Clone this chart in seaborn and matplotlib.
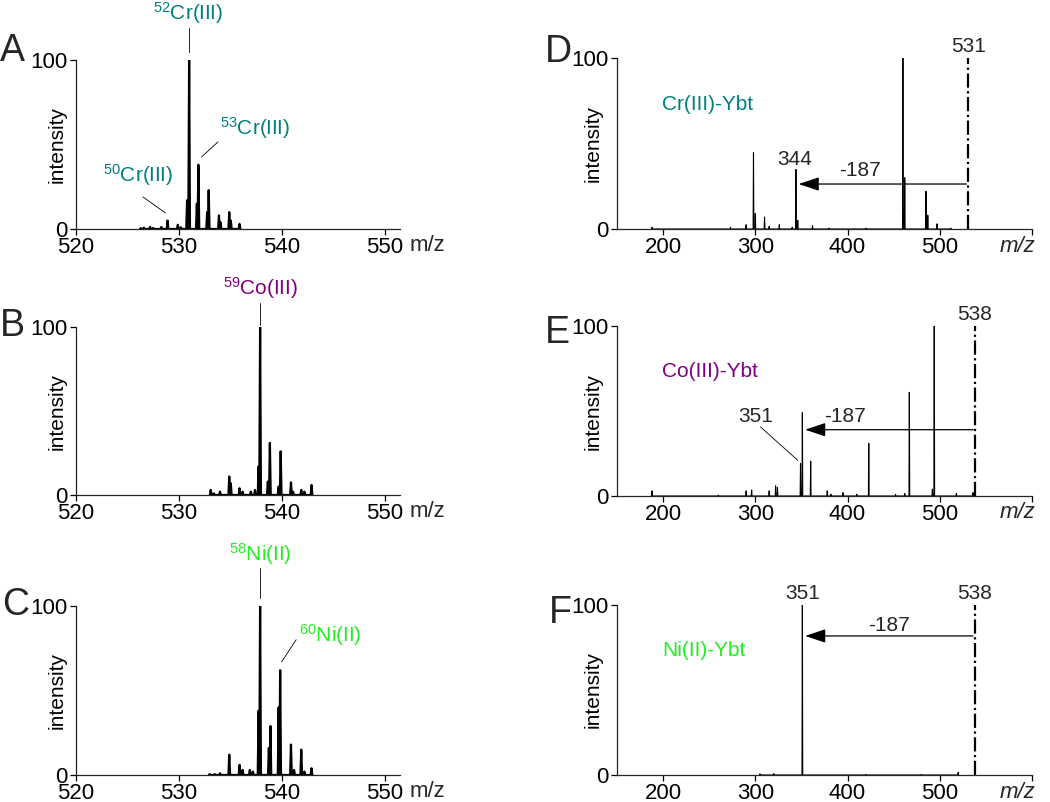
import matplotlib
matplotlib.use("Agg")
import matplotlib.pyplot as plt
import pandas as pd
import seaborn as sns

# --- data ------------------------------------------------------------------
# A-C: isotope envelopes (m/z, relative intensity)
cr_mz = [526.3, 526.6, 527.2, 527.5, 528.3, 528.9, 529.9, 530.2, 530.8, 531.0,
         531.75, 531.9, 532.75, 532.9, 533.9, 534.05, 534.9, 535.05, 535.9]
cr_int = [0.5, 0.8, 1.2, 0.6, 1.2, 5, 2.5, 1, 17, 100,
          15, 38, 10, 23, 8, 4, 10, 5, 3]

co_mz = [533.1, 533.4, 534.0, 534.9, 535.05, 535.9, 536.2, 537.0, 537.4, 537.75,
         537.9, 538.65, 538.85, 539.7, 539.9, 540.9, 541.1, 541.9, 542.2, 542.9]
co_int = [3, 1, 2, 11, 7, 4, 2, 2, 3, 17,
          100, 8, 31, 5, 26, 7.5, 2, 3, 2, 6]

ni_mz = [533.0, 533.5, 534.0, 534.9, 535.9, 536.2, 536.9, 537.2, 537.75, 537.9,
         538.75, 538.9, 539.7, 539.85, 540.9, 541.2, 541.9, 542.2, 542.9]
ni_int = [0.5, 0.5, 1, 12, 6, 3, 3, 2, 38, 100,
          16, 29, 40, 62, 18, 3, 15, 2, 4]

# D-F: MS/MS fragment spectra
d_mz = [188, 273, 290, 298, 300, 310, 315, 326, 340, 344, 346, 362, 380, 420,
        460, 462, 485, 487, 497, 512]
d_int = [1, 1, 2.5, 44.6, 9, 7, 1.5, 2.5, 1, 34.8, 5, 2, 0.5, 0.5,
         100, 30, 22, 8, 3, 0.5]

e_mz = [188, 260, 290, 296, 315, 322, 324, 349, 351, 360, 378, 382, 395, 410,
        423, 452, 462, 467, 492, 494, 518, 536, 538]
e_int = [3, 0.5, 3, 3.5, 3, 6, 5, 19, 49, 20.5, 3, 1, 2, 1,
         31, 1, 1.5, 61, 4, 100, 1.5, 2, 4]

f_mz = [305, 320, 351, 420, 480, 520]
f_int = [0.7, 0.8, 100, 0.3, 0.3, 1.5]

precursors = [531, 538, 538]
fragments = [344, 351, 351]
arrow_y = [26.3, 39, 81.8]

CR = "#008080"
CO = "#800080"
NI = "#22ee22"

sns.set_theme(style="ticks")
plt.rcParams["font.family"] = ["Liberation Sans", "DejaVu Sans"]
plt.rcParams["mathtext.fontset"] = "custom"
plt.rcParams["mathtext.rm"] = "Liberation Sans"
plt.rcParams["mathtext.it"] = "Liberation Sans:italic"
plt.rcParams["axes.linewidth"] = 0.9


def profile(mz, inten, hw):
    # each peak drawn as a narrow spike on the baseline
    xs, ys = [], []
    for m, h in sorted(zip(mz, inten)):
        xs += [m - hw, m, m + hw]
        ys += [0, h, 0]
    return pd.DataFrame({"mz": xs, "intensity": ys})


def style(ax, xlim, xticks, xlabels, lab_x, mz_x, italic):
    ax.set_xlim(xlim)
    ax.set_ylim(0, 100)
    ax.set_yticks([0, 100])
    ax.set_xticks(xticks, labels=xlabels)
    sns.despine(ax=ax)
    ax.tick_params(labelsize=16, length=4, width=0.9, pad=2, colors="black")
    ax.set_xlabel("")
    ax.set_ylabel("intensity", fontsize=15, color="black")
    ax.yaxis.set_label_coords(lab_x, 0.5)
    ax.text(mz_x, -0.10, "m/z", transform=ax.transAxes, fontsize=16,
            ha="left", va="center", style="italic" if italic else "normal")


def leader(ax, x0, y0, x1, y1):
    ax.plot([x0, x1], [y0, y1], color="black", lw=0.6, clip_on=False)


fig = plt.figure(figsize=(10.5, 8.02), dpi=100)
W, H = 1050, 802

left_rows = [(60, 229), (327, 495), (606, 775)]
right_rows = [(58, 229), (326, 496), (605, 775)]
lx0, lx1 = 76, 400
rx0, rx1 = 617, 1032

axes_left = []
for top, bot in left_rows:
    axes_left.append(fig.add_axes([lx0 / W, 1 - bot / H, (lx1 - lx0) / W, (bot - top) / H]))
axes_right = []
for top, bot in right_rows:
    axes_right.append(fig.add_axes([rx0 / W, 1 - bot / H, (rx1 - rx0) / W, (bot - top) / H]))

# --- A-C ---------------------------------------------------------------------
for ax, mz, inten in zip(axes_left, [cr_mz, co_mz, ni_mz], [cr_int, co_int, ni_int]):
    sns.lineplot(data=profile(mz, inten, 0.08), x="mz", y="intensity", ax=ax,
                 sort=False, estimator=None, color="black", lw=1.6)
    style(ax, (520, 551.5), [520, 530, 540, 550], ["520", "530", "540", "550"],
          -0.028, (410 - lx0) / (lx1 - lx0), False)

axA, axB, axC = axes_left
axA.text(530.9, 128, r"$^{52}$Cr(III)", color=CR, fontsize=15, ha="center", va="center")
leader(axA, 531.0, 105, 531.0, 119)
axA.text(537.4, 60, r"$^{53}$Cr(III)", color=CR, fontsize=15, ha="center", va="center")
leader(axA, 532.2, 42.6, 533.8, 51.5)
axA.text(526.0, 32, r"$^{50}$Cr(III)", color=CR, fontsize=15, ha="center", va="center")
leader(axA, 526.5, 19, 528.7, 9.5)

axB.text(537.9, 123, r"$^{59}$Co(III)", color=CO, fontsize=15, ha="center", va="center")
leader(axB, 537.9, 101, 537.9, 114)

axC.text(537.9, 131, r"$^{58}$Ni(II)", color=NI, fontsize=15, ha="center", va="center")
leader(axC, 537.9, 105, 537.9, 122.5)
axC.text(544.7, 83, r"$^{60}$Ni(II)", color=NI, fontsize=15, ha="center", va="center")
leader(axC, 540.0, 67, 541.4, 80)

# --- D-F ---------------------------------------------------------------------
names = ["Cr(III)-Ybt", "Co(III)-Ybt", "Ni(II)-Ybt"]
colors = [CR, CO, NI]
for i, (ax, mz, inten) in enumerate(zip(axes_right, [d_mz, e_mz, f_mz], [d_int, e_int, f_int])):
    sns.lineplot(data=profile(mz, inten, 0.4), x="mz", y="intensity", ax=ax,
                 sort=False, estimator=None, color="black", lw=0.8)
    style(ax, (150, 600), [200, 300, 400, 500, 600], ["200", "300", "400", "500", ""],
          -0.034, (1000 - rx0) / (rx1 - rx0), True)
    p = precursors[i]
    ax.plot([p, p], [0, 100], color="black", lw=1.6, ls="-.")
    ax.text(p, 106.5, str(p), fontsize=15, ha="center", va="center")
    ax.annotate("", xy=(fragments[i] + 3, arrow_y[i]), xytext=(p - 2, arrow_y[i]),
                arrowprops=dict(arrowstyle="-|>,head_length=0.9,head_width=0.3",
                                color="black", lw=0.9, shrinkA=0, shrinkB=0,
                                mutation_scale=14))
    ax.text(199, 73, names[i], color=colors[i], fontsize=15, ha="left", va="center")

axD, axE, axF = axes_right
axD.text(343, 40.6, "344", fontsize=15, ha="center", va="center")
axD.text(414, 34, "-187", fontsize=15, ha="center", va="center")

axE.text(300, 46.5, "351", fontsize=15, ha="center", va="center")
leader(axE, 305.5, 40.7, 346, 21)
axE.text(397.6, 46.5, "-187", fontsize=15, ha="center", va="center")

axF.text(351, 107, "351", fontsize=15, ha="center", va="center")
axF.text(444.6, 88, "-187", fontsize=15, ha="center", va="center")

# panel letters
for letter, x, base in [("A", 0, 61), ("B", 0, 336), ("C", 2, 615),
                        ("D", 545, 62), ("E", 545, 343), ("F", 549, 623)]:
    fig.text(x / W, 1 - base / H, letter, fontsize=27, ha="left", va="baseline")

fig.savefig("out.png", dpi=100)
